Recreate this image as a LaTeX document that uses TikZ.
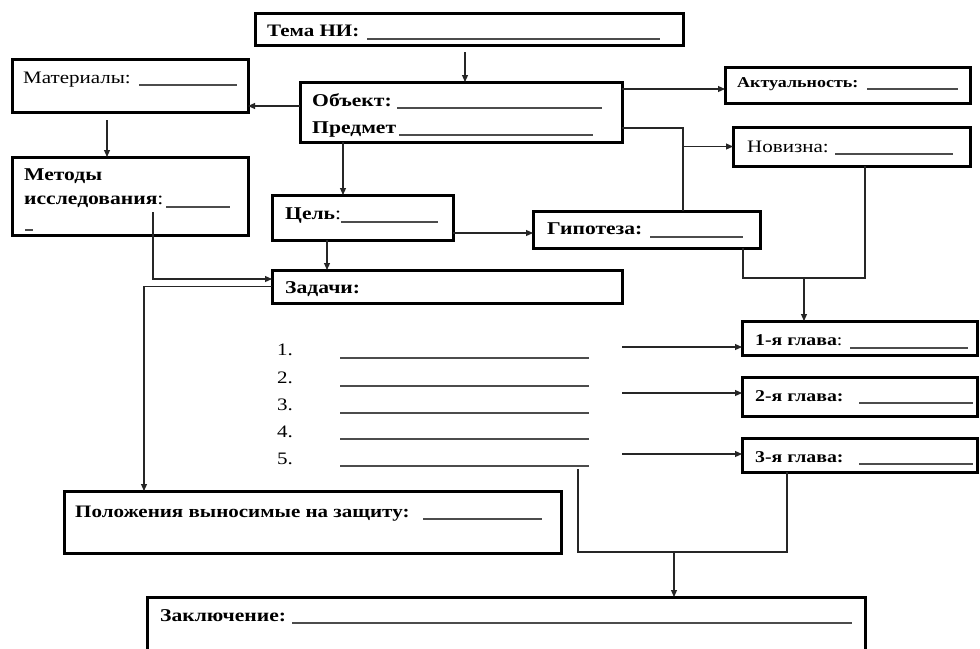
\documentclass[tikz,border=0pt]{standalone}
\usepackage{fontspec}
\setmainfont{Liberation Serif}[FakeStretch=1.2]
\usetikzlibrary{arrows.meta,calc}
\newcommand{\mybox}[5]{\node[box, minimum width={(#4-#2)*1pt}, minimum height={(#5-#3)*1pt}] (#1) at ({(#2+#4)/2},{(#3+#5)/2}) {};}
\newcommand{\fs}[1]{\fontsize{#1}{#1}\selectfont}
\begin{document}
\begin{tikzpicture}[x=1pt,y=-1pt,
  box/.style={draw=black, line width=3pt, inner sep=0pt, outer sep=0pt},
  conn/.style={draw=black!85, line width=1.1pt},
  arr/.style={conn, -{Triangle[length=7pt,width=6pt]}},
  uline/.style={draw=black!70, line width=1.2pt},
  lbl/.style={anchor=base west, inner sep=0pt, font=\fs{17.5}},
  lblb/.style={anchor=base west, inner sep=0pt, font=\fs{18}\bfseries},
  lblbs/.style={anchor=base west, inner sep=0pt, font=\fs{16.5}\bfseries},
]
\useasboundingbox (0,0) rectangle (980,648);
\clip (0,0) rectangle (980,648);
\fill[white] (0,0) rectangle (980,648);

% boxes
\mybox{tema}{255}{13}{683}{45}
\mybox{mat}{12}{59}{248}{112}
\mybox{obj}{300}{82}{622}{142}
\mybox{akt}{725}{67}{970}{103}
\mybox{nov}{733}{127}{970}{166}
\mybox{met}{12}{157}{248}{235}
\mybox{cel}{272}{195}{453}{240}
\mybox{gip}{533}{211}{760}{248}
\mybox{zad}{272}{270}{622}{303}
\mybox{gla}{742}{321}{977}{355}
\mybox{glb}{742}{377}{977}{416}
\mybox{glc}{742}{438}{977}{472}
\mybox{pol}{64}{491}{561}{553}
\mybox{zak}{147}{597}{865}{690}

% texts
\node[lblb, font=\fs{17.5}\bfseries] (tTema) at (267,36) {Тема НИ:};
\draw[uline] (367,39) -- (660,39);
\node[lbl] (tMat) at (23,83) {Материалы:};
\draw[uline] (139,85) -- (237,85);
\node[lblb] (tObj) at (312,106) {Объект:};
\draw[uline] (397,108) -- (602,108);
\node[lblb] (tPred) at (312,133) {Предмет};
\draw[uline] (399,135) -- (593,135);
\node[lblb, font=\fs{15}\bfseries] (tAkt) at (737,87) {Актуальность:};
\draw[uline] (867,89) -- (958,89);
\node[lbl] (tNov) at (747,152) {Новизна:};
\draw[uline] (835,154) -- (953,154);
\node[lblb] (tMet1) at (24,180) {Методы};
\node[lblb] (tMet2) at (24,204) {исследования\textmd{:}};
\draw[uline] (166,207) -- (230,207);
\draw[uline] (25,230) -- (33,230);
\node[lblb] (tCel) at (285,219) {Цель\textmd{:}};
\draw[uline] (341,222) -- (438,222);
\node[lblb] (tGip) at (547,234) {Гипотеза:};
\draw[uline] (650,237) -- (743,237);
\node[lblb] (tZad) at (285,293) {Задачи:};

\node[lbl] (n1) at (277,355) {1.};
\node[lbl] (n2) at (277,383) {2.};
\node[lbl] (n3) at (277,410) {3.};
\node[lbl] (n4) at (277,437) {4.};
\node[lbl] (n5) at (277,464) {5.};
\foreach \yy in {358,386,413,439,466} \draw[uline] (340,\yy) -- (589,\yy);

\node[lblbs] (tG1) at (755,345) {1-я глава\textmd{:}};
\draw[uline] (850,348) -- (968,348);
\node[lblbs] (tG2) at (755,401) {2-я глава:};
\draw[uline] (859,403) -- (973,403);
\node[lblbs] (tG3) at (755,462) {3-я глава:};
\draw[uline] (859,464) -- (973,464);
\node[lblb, font=\fs{17.5}\bfseries] (tPol) at (75,517) {Положения выносимые на защиту:};
\draw[uline] (423,519) -- (542,519);
\node[lblb] (tZak) at (160,621) {Заключение:};
\draw[uline] (292,623) -- (852,623);

% helper coordinates
\coordinate (x465) at (465,0);
\coordinate (x107) at (107,0);
\coordinate (x343) at (343,0);
\coordinate (x327) at (327,0);
\coordinate (k683) at (683,0);
\coordinate (x743) at (743,0);
\coordinate (x865) at (865,0);
\coordinate (x144) at (144,0);
\coordinate (x787) at (787,0);

% connectors
\draw[arr, shorten <=7pt] (tema.south -| x465) -- (obj.north -| x465);
\coordinate (objL) at ([yshift=6pt]obj.west);
\draw[arr] (objL) -- (objL -| mat.east);
\draw[arr, shorten <=8pt] (mat.south -| x107) -- (met.north -| x107);
\coordinate (objR1) at ([yshift=23pt]obj.east);
\draw[arr] (objR1) -- (objR1 -| akt.west);
\coordinate (objR2) at ([yshift=-16pt]obj.east);
\draw[conn] (objR2) -| (gip.north -| k683);
\draw[arr] (nov.west -| k683) -- (nov.west);
\draw[arr] (obj.south -| x343) -- (cel.north -| x343);
\coordinate (celR) at ([yshift=-15.5pt]cel.east);
\draw[arr] (celR) -- (celR -| gip.west);
\draw[arr] (cel.south -| x327) -- (zad.north -| x327);
\coordinate (metIn) at (153,212);
\coordinate (zadL1) at ([yshift=7.5pt]zad.west);
\draw[arr] (metIn) |- (zadL1);
\draw[arr] (zad.west) -| (pol.north -| x144);
\coordinate (j1) at (804,278);
\draw[conn] (gip.south -| x743) |- (j1) -| (nov.south -| x865);
\draw[arr] (j1) -- (gla.north -| j1);
\coordinate (t1) at (622,347);
\draw[arr] (t1) -- (t1 -| gla.west);
\coordinate (t2) at (622,393);
\draw[arr] (t2) -- (t2 -| glb.west);
\coordinate (t3) at (622,454);
\draw[arr] (t3) -- (t3 -| glc.west);
\coordinate (l5) at (578,469);
\coordinate (j2) at (674,552);
\draw[conn] (l5) |- (j2) -| (glc.south -| x787);
\draw[arr] (j2) -- (zak.north -| j2);
\end{tikzpicture}
\end{document}
